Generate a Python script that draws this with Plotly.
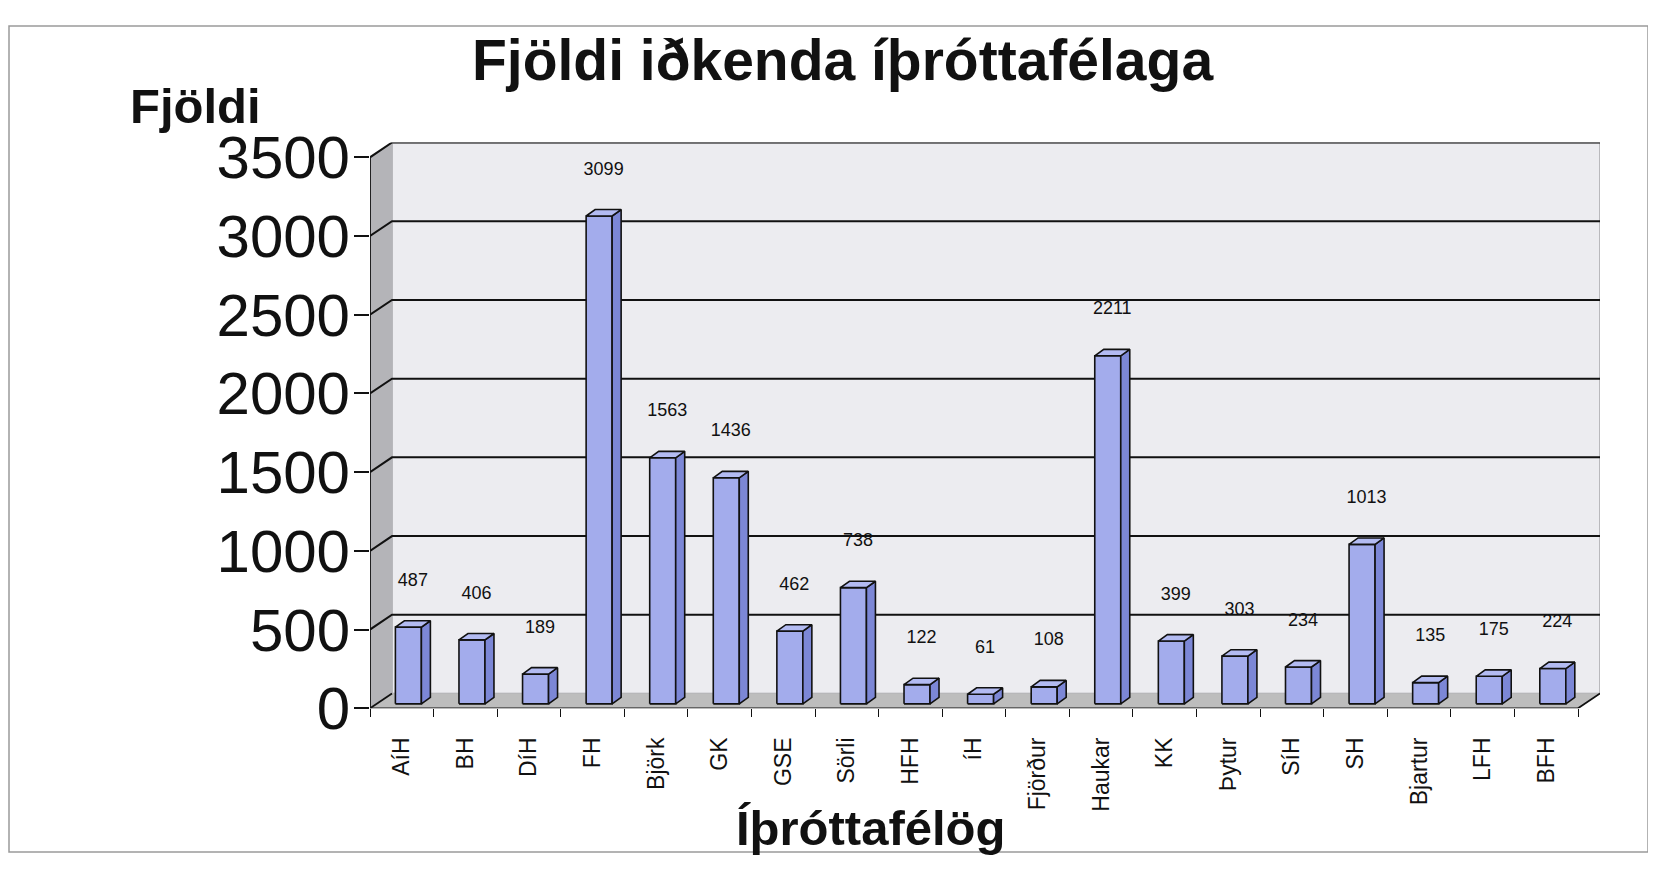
import plotly.graph_objects as go

# ---------------- data ----------------
categories = ["AíH", "BH", "DíH", "FH", "Björk", "GK", "GSE", "Sörli", "HFH", "íH",
              "Fjörður", "Haukar", "KK", "Þytur", "SíH", "SH", "Bjartur", "LFH", "BFH"]
values = [487, 406, 189, 3099, 1563, 1436, 462, 738, 122, 61,
          108, 2211, 399, 303, 234, 1013, 135, 175, 224]
y_ticks = [0, 500, 1000, 1500, 2000, 2500, 3000, 3500]

title_text = "Fjöldi iðkenda íþróttafélaga"
y_title = "Fjöldi"
x_title = "Íþróttafélög"

# ---------------- layout geometry ----------------
W, H = 1656, 879
# mapping of page placement observed in the rendered picture
SX, SY, OX, OY = 1.0, 0.954, 8.0, 19.0


def dx_(px):  # picture x -> figure x
    return (px - OX) / SX


def dy_(py):  # picture y -> figure y
    return (py - OY) / SY


FX0, FX1 = dx_(370), dx_(1578)        # front plane x extent
FY0, FYTOP = dy_(711), dy_(153)       # front plane y of 0 and of max tick
YMAX = 3500
WALL_DX, WALL_DY = 22 / SX, 15 / SY
BAR_W = 26 / SX
BAR_OFF = (6.6 / SX, 4.5 / SY)
BAR_D = (9 / SX, 6.5 / SY)
LABEL_GAP = 40 / SY

n = len(categories)
pxu = (FX1 - FX0) / n
pyu = (FY0 - FYTOP) / YMAX

wdx = WALL_DX / pxu
wdy = WALL_DY / pyu
bw = BAR_W / pxu
box = BAR_OFF[0] / pxu
boy = BAR_OFF[1] / pyu
bdx = BAR_D[0] / pxu
bdy = BAR_D[1] / pyu

xr0, xr1 = -0.5, n - 0.5
x_range = [xr0, xr1 + wdx]
y_range = [0, YMAX + wdy]

fig = go.Figure()


def poly(x, y, fill, line_color, lw):
    fig.add_trace(go.Scatter(x=x, y=y, fill="toself", fillcolor=fill, mode="lines",
                             line=dict(color=line_color, width=lw),
                             hoverinfo="skip", showlegend=False))


# back wall, left wall, floor
poly([xr0 + wdx, xr1 + wdx, xr1 + wdx, xr0 + wdx, xr0 + wdx],
     [wdy, wdy, YMAX + wdy, YMAX + wdy, wdy], "#ececf0", "#a8a8ac", 1.5)
poly([xr0, xr0 + wdx, xr0 + wdx, xr0, xr0],
     [0, wdy, YMAX + wdy, YMAX, 0], "#b4b4b8", "#b4b4b8", 0.5)
poly([xr0, xr1, xr1 + wdx, xr0 + wdx, xr0],
     [0, 0, wdy, wdy, 0], "#bdbdbd", "#bdbdbd", 0.5)

# gridlines on walls
gx, gy = [], []
for v in y_ticks[1:]:
    gx += [xr0, xr0 + wdx, xr1 + wdx, None]
    gy += [v, v + wdy, v + wdy, None]
fig.add_trace(go.Scatter(x=gx, y=gy, mode="lines",
                         line=dict(color="#111111", width=2),
                         hoverinfo="skip", showlegend=False))

# box edges
fig.add_trace(go.Scatter(x=[xr0, xr0, None, xr0, xr1, xr1 + wdx, None, xr0, xr0 + wdx],
                         y=[0, YMAX, None, 0, 0, wdy, None, 0, wdy],
                         mode="lines", line=dict(color="#111111", width=1.8),
                         hoverinfo="skip", showlegend=False))

# bars: front, side, top faces
fx, fy, sx, sy, tx, ty = [], [], [], [], [], []
for i, v in enumerate(values):
    xl = i + box - bw / 2
    xr = xl + bw
    b = boy
    t = boy + v
    fx += [xl, xr, xr, xl, xl, None]
    fy += [b, b, t, t, b, None]
    sx += [xr, xr + bdx, xr + bdx, xr, xr, None]
    sy += [b, b + bdy, t + bdy, t, b, None]
    tx += [xl, xr, xr + bdx, xl + bdx, xl, None]
    ty += [t, t, t + bdy, t + bdy, t, None]
poly(fx, fy, "#a3acec", "#111111", 1.6)
poly(sx, sy, "#7c87d6", "#111111", 1.6)
poly(tx, ty, "#b3bbf2", "#111111", 1.6)

# data labels
fig.add_trace(go.Scatter(
    x=[i + box + bdx / 2 for i in range(n)],
    y=[boy + v + bdy + LABEL_GAP / pyu for v in values],
    text=[str(v) for v in values], mode="text", textposition="middle center",
    textfont=dict(family="Liberation Sans, Arial", size=18, color="#111111"),
    hoverinfo="skip", showlegend=False))

fig.update_layout(
    width=W, height=H, autosize=False,
    margin=dict(l=0, r=0, t=0, b=0),
    paper_bgcolor="white", plot_bgcolor="rgba(0,0,0,0)",
    xaxis=dict(
        domain=[FX0 / W, (FX1 + WALL_DX) / W], range=x_range,
        showgrid=False, zeroline=False, showline=False,
        tickmode="array", tickvals=list(range(n)), ticktext=categories,
        tickangle=-90, ticks="outside", ticklen=19, tickcolor="rgba(0,0,0,0)",
        tickfont=dict(family="Liberation Sans, Arial", size=23, color="#111111"),
        minor=dict(tickmode="array", tickvals=[k - 0.5 for k in range(n + 1)],
                   ticks="outside", ticklen=8, tickcolor="#111111", tickwidth=1.2,
                   showgrid=False),
    ),
    yaxis=dict(
        domain=[(H - FY0) / H, (H - (FYTOP - WALL_DY)) / H], range=y_range,
        showgrid=False, zeroline=False, showline=False,
        tickmode="array", tickvals=y_ticks,
        ticks="outside", ticklen=15, tickcolor="#111111", tickwidth=1.5,
        ticklabelstandoff=-8,
        tickfont=dict(family="Liberation Sans, Arial", size=60, color="#111111"),
    ),
    annotations=[
        dict(text="<b>" + title_text + "</b>", x=dx_(843) / W, y=1 - (dy_(60) - 5.5) / H,
             xref="paper", yref="paper", showarrow=False,
             xanchor="center", yanchor="middle",
             font=dict(family="Liberation Sans, Arial", size=57, color="#111111")),
        dict(text="<b>" + y_title + "</b>", x=dx_(195) / W, y=1 - (dy_(106) - 5.5) / H,
             xref="paper", yref="paper", showarrow=False,
             xanchor="center", yanchor="middle",
             font=dict(family="Liberation Sans, Arial", size=49, color="#111111")),
        dict(text="<b>" + x_title + "</b>", x=dx_(870) / W, y=1 - (dy_(829) + 3) / H,
             xref="paper", yref="paper", showarrow=False,
             xanchor="center", yanchor="middle",
             font=dict(family="Liberation Sans, Arial", size=49, color="#111111")),
    ],
    shapes=[dict(type="rect", xref="paper", yref="paper",
                 x0=1 / W, x1=dx_(1648) / W, y0=1 / H, y1=1 - 1 / H,
                 line=dict(color="#9a9a9a", width=1.5), fillcolor="rgba(0,0,0,0)",
                 layer="below")],
)

fig.write_html("out.html", config={"displayModeBar": False})
